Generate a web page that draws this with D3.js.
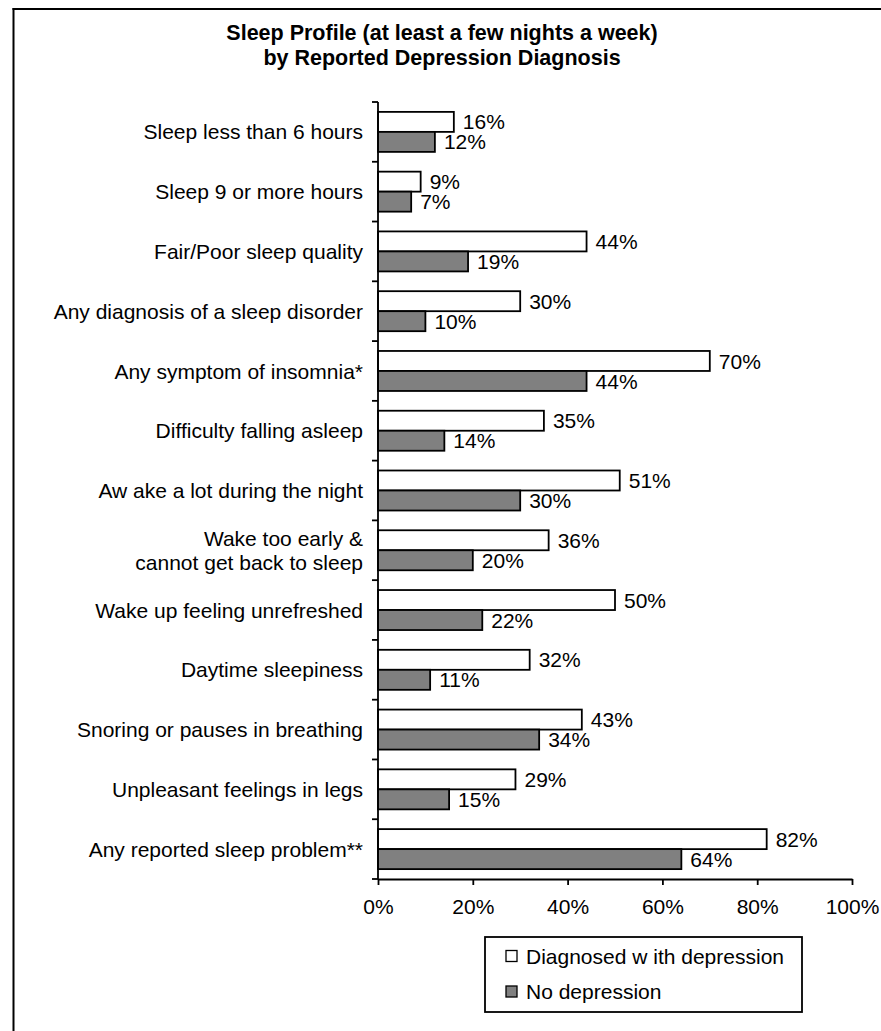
<!DOCTYPE html>
<html><head><meta charset="utf-8">
<script src="https://cdn.jsdelivr.net/npm/d3@7"></script>
<style>body{margin:0;background:#fff;} text{font-family:"Liberation Sans",Arial,sans-serif;}</style>
</head><body>
<svg id="c" width="881" height="1031"></svg>
<script>
const categories = [
  ["Sleep less than 6 hours"],
  ["Sleep 9 or more hours"],
  ["Fair/Poor sleep quality"],
  ["Any diagnosis of a sleep disorder"],
  ["Any symptom of insomnia*"],
  ["Difficulty falling asleep"],
  ["Aw ake a lot during the night"],
  ["Wake too early &", "cannot get back to sleep"],
  ["Wake up feeling unrefreshed"],
  ["Daytime sleepiness"],
  ["Snoring or pauses in breathing"],
  ["Unpleasant feelings in legs"],
  ["Any reported sleep problem**"]
];
const depressed = [16, 9, 44, 30, 70, 35, 51, 36, 50, 32, 43, 29, 82];
const noDepression = [12, 7, 19, 10, 44, 14, 30, 20, 22, 11, 34, 15, 64];
const xTicks = [0, 20, 40, 60, 80, 100];
const seriesNames = ["Diagnosed w ith depression", "No depression"];
const seriesColors = ["#ffffff", "#808080"];
const titleLines = ["Sleep Profile (at least a few nights a week)", "by Reported Depression Diagnosis"];

const FONT = 21;
const svg = d3.select("#c");
// frame (top and left edges visible)
svg.append("line").attr("x1",12.5).attr("x2",881).attr("y1",9).attr("y2",9).attr("stroke","#000").attr("stroke-width",2);
svg.append("line").attr("x1",13.5).attr("x2",13.5).attr("y1",8).attr("y2",1031).attr("stroke","#000").attr("stroke-width",2);

svg.selectAll("text.title").data(titleLines).enter().append("text")
  .attr("x",442).attr("y",(d,i)=>40+i*25).attr("text-anchor","middle")
  .attr("font-size",21.5).attr("font-weight","bold").text(d=>d);

const x = d3.scaleLinear().domain([0,100]).range([378,852]);
const y = d3.scaleBand().domain(d3.range(categories.length)).range([102,879]).paddingInner(0).paddingOuter(0);
const BARS = 40;
const inner = d3.scaleBand().domain([0,1]).range([0,BARS]);
const barOff = (y.bandwidth()-BARS)/2;

const series = [depressed, noDepression];
series.forEach((vals,s)=>{
  const g = svg.append("g");
  g.selectAll("rect").data(vals).enter().append("rect")
    .attr("x",x(0)).attr("y",(d,i)=>y(i)+barOff+inner(s))
    .attr("width",d=>x(d)-x(0)).attr("height",inner.bandwidth())
    .attr("fill",seriesColors[s]).attr("stroke","#000").attr("stroke-width",1.8);
  g.selectAll("text").data(vals).enter().append("text")
    .attr("x",d=>x(d)+9).attr("y",(d,i)=>y(i)+barOff+inner(s)+inner.bandwidth()/2)
    .attr("dy","0.36em").attr("font-size",FONT).text(d=>d+"%");
});

// y axis line & ticks
const yAxisG = svg.append("g");
yAxisG.append("line").attr("x1",x(0)).attr("x2",x(0)).attr("y1",102).attr("y2",879).attr("stroke","#000").attr("stroke-width",1.8);
yAxisG.selectAll("line.t").data(d3.range(categories.length+1)).enter().append("line")
  .attr("x1",x(0)-6).attr("x2",x(0)).attr("y1",i=>102+i*y.step()).attr("y2",i=>102+i*y.step())
  .attr("stroke","#000").attr("stroke-width",1.8);

// category labels
categories.forEach((lines,i)=>{
  const cy = y(i)+y.bandwidth()/2;
  const t = svg.append("text").attr("text-anchor","end").attr("font-size",FONT);
  lines.forEach((ln,j)=>{
    t.append("tspan").attr("x",363).attr("y",cy + (j-(lines.length-1)/2)*24).attr("dy","0.36em").text(ln);
  });
});

// x axis
const xAxis = d3.axisBottom(x).tickValues(xTicks).tickFormat(d=>d+"%").tickSize(6).tickSizeOuter(0).tickPadding(14);
const xg = svg.append("g").attr("transform","translate(0,879)").call(xAxis);
xg.select(".domain").attr("stroke-width",1.8);
xg.selectAll(".tick line").attr("stroke-width",1.8);
xg.selectAll(".tick text").attr("font-size",FONT).attr("font-family","'Liberation Sans',Arial,sans-serif").attr("fill","#000");

// legend
const lg = svg.append("g");
lg.append("rect").attr("x",485).attr("y",937).attr("width",317).attr("height",75).attr("fill","#fff").attr("stroke","#000").attr("stroke-width",1.8);
seriesNames.forEach((n,i)=>{
  const cy = 956 + i*35.5;
  lg.append("rect").attr("x",506).attr("y",cy-5.5).attr("width",11).attr("height",11).attr("fill",seriesColors[i]).attr("stroke","#000").attr("stroke-width",1.3);
  lg.append("text").attr("x",526).attr("y",cy).attr("dy","0.36em").attr("font-size",FONT).text(n);
});
</script>
</body></html>
